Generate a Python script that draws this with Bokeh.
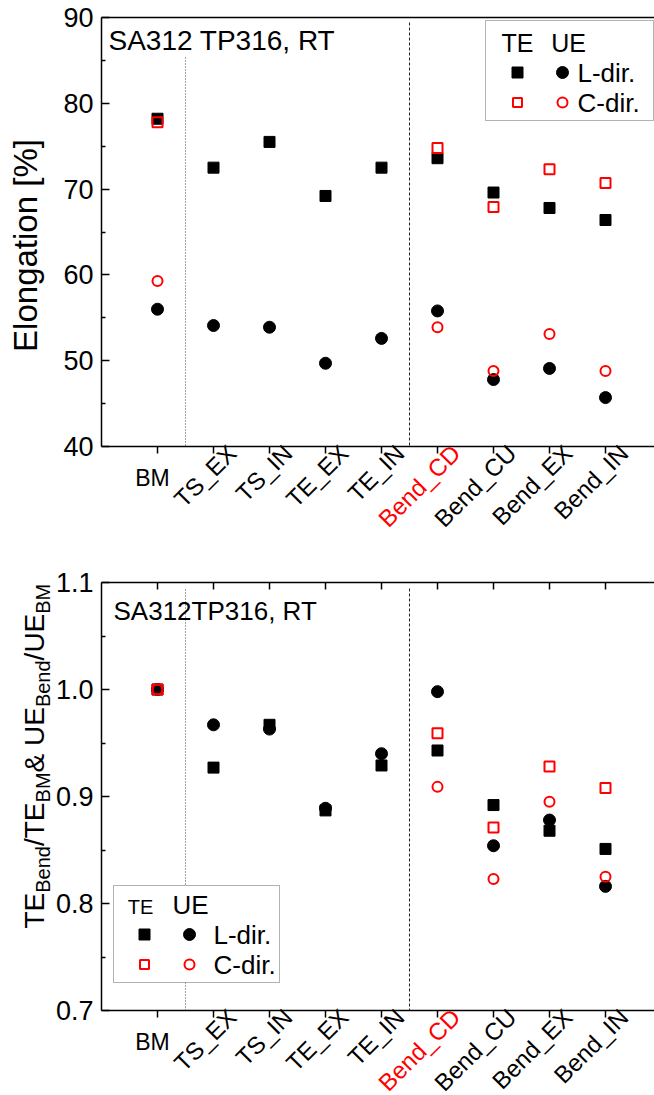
from bokeh.plotting import figure
from bokeh.layouts import column
from bokeh.models import (LinearAxis, FixedTicker, Label, BoxAnnotation, Range1d,
                          PrintfTickFormatter, CustomJSTickFormatter)
from bokeh.embed import file_html
from bokeh.resources import INLINE

# ---------------- data ----------------
categories = ["BM", "TS_EX", "TS_IN", "TE_EX", "TE_IN", "Bend_CD", "Bend_CU", "Bend_EX", "Bend_IN"]
category_colors = ["black", "black", "black", "black", "black", "red", "black", "black", "black"]
x_pos = [1, 2, 3, 4, 5, 6, 7, 8, 9]
x_pos_C = [1, 6, 7, 8, 9]

# Elongation [%]
te_L = [78.2, 72.5, 75.5, 69.2, 72.5, 73.6, 69.6, 67.8, 66.4]
ue_L = [56.0, 54.1, 53.9, 49.7, 52.6, 55.8, 47.8, 49.1, 45.7]
te_C = [77.8, 74.8, 67.9, 72.3, 70.7]
ue_C = [59.3, 53.9, 48.8, 53.1, 48.8]

# ratios to BM
te_L_r = [1.000, 0.927, 0.967, 0.887, 0.929, 0.943, 0.892, 0.868, 0.851]
ue_L_r = [1.000, 0.967, 0.963, 0.889, 0.940, 0.998, 0.854, 0.878, 0.816]
te_C_r = [1.000, 0.959, 0.871, 0.928, 0.908]
ue_C_r = [1.000, 0.909, 0.823, 0.895, 0.825]

separators = [1.5, 5.5]
y_ticks_top = [40, 50, 60, 70, 80, 90]
y_minor_top = [45, 55, 65, 75, 85]
y_ticks_bot = [0.7, 0.8, 0.9, 1.0, 1.1]
y_minor_bot = [0.75, 0.85, 0.95, 1.05]
X_LIM = (0, 9.875)

FONT = "Liberation Sans"
W = 654
LEFT = 101                      # pixel column of the left axis
PX_PER_X = (W - LEFT) / (X_LIM[1] - X_LIM[0])


def xd(px):
    return X_LIM[0] + (px - LEFT) / PX_PER_X


BLANK = CustomJSTickFormatter(code="return ''")


def make_fig(h, yr_canvas, ylim, yt, ym, fmt, top_ticks):
    p = figure(width=W, height=h, x_range=Range1d(xd(0), xd(W)), y_range=Range1d(*yr_canvas),
               output_backend="svg", toolbar_location=None,
               min_border_left=0, min_border_right=0, min_border_top=0, min_border_bottom=0)
    p.outline_line_color = None
    p.background_fill_color = "white"
    p.border_fill_color = "white"
    p.xgrid.visible = False
    p.ygrid.visible = False
    # bottom axis
    xa = p.xaxis[0]
    xa.fixed_location = ylim[0]
    xa.bounds = X_LIM
    xa.ticker = FixedTicker(ticks=x_pos)
    xa.formatter = BLANK
    xa.major_label_standoff = 0
    xa.major_tick_in = 0
    xa.major_tick_out = 7
    xa.minor_tick_in = 0
    xa.minor_tick_out = 0
    xa.axis_line_width = 1.5
    xa.major_tick_line_width = 1.5
    xa.axis_line_color = "black"
    xa.major_tick_line_color = "black"
    # left axis
    ya = p.yaxis[0]
    ya.fixed_location = X_LIM[0]
    ya.bounds = ylim
    ya.ticker = FixedTicker(ticks=yt, minor_ticks=ym)
    ya.formatter = fmt
    ya.major_tick_in = 8
    ya.major_tick_out = 0
    ya.minor_tick_in = 4
    ya.minor_tick_out = 0
    ya.axis_line_width = 1.5
    ya.major_tick_line_width = 1.5
    ya.minor_tick_line_width = 1.5
    ya.axis_line_color = "black"
    ya.major_tick_line_color = "black"
    ya.minor_tick_line_color = "black"
    ya.major_label_standoff = 8
    ya.major_label_text_font = FONT
    ya.major_label_text_font_size = "27px"
    ya.major_label_text_color = "black"
    # top axis (frame line)
    ta = LinearAxis(ticker=FixedTicker(ticks=x_pos), formatter=BLANK,
                    major_label_standoff=0, major_tick_out=0,
                    major_tick_in=7 if top_ticks else 0,
                    minor_tick_in=0, minor_tick_out=0,
                    axis_line_width=1.5, major_tick_line_width=1.5,
                    axis_line_color="black", major_tick_line_color="black",
                    fixed_location=ylim[1], bounds=X_LIM)
    p.add_layout(ta, "above")
    return p


def add_xlabels(p, ymin):
    for xi, name, col in zip(x_pos, categories, category_colors):
        if name == "BM":
            p.add_layout(Label(x=xi, y=ymin, x_offset=-5, y_offset=-31, text=name,
                               text_font=FONT, text_font_size="23px", text_color=col,
                               text_align="center", text_baseline="middle"))
        else:
            p.add_layout(Label(x=xi, y=ymin, x_offset=9, y_offset=7, text=name,
                               angle=45, angle_units="deg",
                               text_font=FONT, text_font_size="24px", text_color=col,
                               text_align="right", text_baseline="top"))


def draw_points(p, teL, ueL, teC, ueC):
    p.scatter(x_pos, teL, marker="square", size=11, fill_color="black", line_color="black")
    p.scatter(x_pos, ueL, marker="circle", size=12, fill_color="black", line_color="black")
    p.scatter(x_pos_C, teC, marker="square", size=10, fill_color=None, line_color="red", line_width=2)
    p.scatter(x_pos_C, ueC, marker="circle", size=10, fill_color=None, line_color="red", line_width=2)


def label(p, x, y, text, size, align="left", color="black", angle=0, baseline="middle"):
    p.add_layout(Label(x=x, y=y, text=text, text_font=FONT, text_font_size=f"{size}px",
                       text_color=color, text_align=align, text_baseline=baseline,
                       angle=angle, angle_units="deg"))


# ---------------- top figure ----------------
H1 = 560
T1, B1 = 17, 446                # frame top / bottom pixels
YL1 = (40, 90)
ppy1 = (B1 - T1) / (YL1[1] - YL1[0])


def yd1(py):
    return YL1[1] - (py - T1) / ppy1


p1 = make_fig(H1, (yd1(H1), yd1(0)), YL1, y_ticks_top, y_minor_top,
              PrintfTickFormatter(format="%d"), False)

r = p1.segment([separators[0]], [yd1(57)], [separators[0]], [YL1[0]], line_color="#444444",
               line_width=1, line_dash="1 2")
r.level = "underlay"
r = p1.segment([separators[1]], [yd1(22)], [separators[1]], [YL1[0]], line_color="#222222",
               line_width=1, line_dash="3 2")
r.level = "underlay"

draw_points(p1, te_L, ue_L, te_C, ue_C)

label(p1, xd(108), yd1(40), "SA312 TP316, RT", 28)
label(p1, xd(25), yd1(245), "Elongation [%]", 33, align="center", angle=90)

# legend (top)
p1.add_layout(BoxAnnotation(left=xd(485), right=xd(653), top=yd1(20), bottom=yd1(120),
                            fill_color="white", fill_alpha=1, line_color="black",
                            line_width=1, level="underlay"))
label(p1, xd(517), yd1(42), "TE", 25, align="center")
label(p1, xd(568), yd1(42), "UE", 25, align="center")
p1.scatter([xd(517)], [yd1(72)], marker="square", size=11, fill_color="black", line_color="black")
p1.scatter([xd(562)], [yd1(72)], marker="circle", size=12, fill_color="black", line_color="black")
p1.scatter([xd(517)], [yd1(102)], marker="square", size=9, fill_color=None, line_color="red", line_width=2)
p1.scatter([xd(562)], [yd1(102)], marker="circle", size=10, fill_color=None, line_color="red", line_width=2)
label(p1, xd(577), yd1(72), "L-dir.", 26)
label(p1, xd(577), yd1(102), "C-dir.", 26)

add_xlabels(p1, YL1[0])

# ---------------- bottom figure ----------------
H2 = 1095 - H1
T2, B2 = 582, 1010              # frame top / bottom in page pixels
YL2 = (0.7, 1.1)
ppy2 = (B2 - T2) / (YL2[1] - YL2[0])


def yd2(py):
    return YL2[1] - (py - T2) / ppy2


p2 = make_fig(H2, (yd2(1095), yd2(H1)), YL2, y_ticks_bot, y_minor_bot,
              PrintfTickFormatter(format="%.1f"), True)

r = p2.segment([separators[0]], [yd2(589)], [separators[0]], [YL2[0]], line_color="#444444",
               line_width=1, line_dash="1 2")
r.level = "underlay"
r = p2.segment([separators[1]], [yd2(588)], [separators[1]], [YL2[0]], line_color="#222222",
               line_width=1, line_dash="3 2")
r.level = "underlay"

draw_points(p2, te_L_r, ue_L_r, te_C_r, ue_C_r)

label(p2, xd(113), yd2(610), "SA312TP316, RT", 26)

# y label with subscripts
AW = {'T': .611, 'E': .667, 'B': .667, 'e': .556, 'n': .556, 'd': .556, '/': .278,
      'M': .833, '&': .667, ' ': .278, 'U': .722}
F_BIG, F_SUB = 28, 20
pieces = [("TE", 0), ("Bend", 1), ("/TE", 0), ("BM", 1), ("& UE", 0), ("Bend", 1), ("/UE", 0), ("BM", 1)]
ypos = 928
for txt, sub in pieces:
    fs = F_SUB if sub else F_BIG
    bx = 34 + (8 if sub else 0)
    label(p2, xd(bx), yd2(ypos), txt, fs, angle=90, baseline="alphabetic")
    ypos -= sum(AW[c] for c in txt) * fs

# legend (bottom)
p2.add_layout(BoxAnnotation(left=xd(113), right=xd(279), top=yd2(885), bottom=yd2(982),
                            fill_color="white", fill_alpha=1, line_color="black",
                            line_width=1, level="underlay"))
label(p2, xd(140), yd2(906), "TE", 20, align="center")
label(p2, xd(190), yd2(904), "UE", 26, align="center")
p2.scatter([xd(144)], [yd2(934)], marker="square", size=11, fill_color="black", line_color="black")
p2.scatter([xd(189)], [yd2(934)], marker="circle", size=12, fill_color="black", line_color="black")
p2.scatter([xd(144)], [yd2(964)], marker="square", size=9, fill_color=None, line_color="red", line_width=2)
p2.scatter([xd(189)], [yd2(964)], marker="circle", size=10, fill_color=None, line_color="red", line_width=2)
label(p2, xd(213), yd2(934), "L-dir.", 26)
label(p2, xd(213), yd2(964), "C-dir.", 26)

add_xlabels(p2, YL2[0])

layout = column(p1, p2, spacing=0)
open("out.html", "w").write(file_html(layout, INLINE))
